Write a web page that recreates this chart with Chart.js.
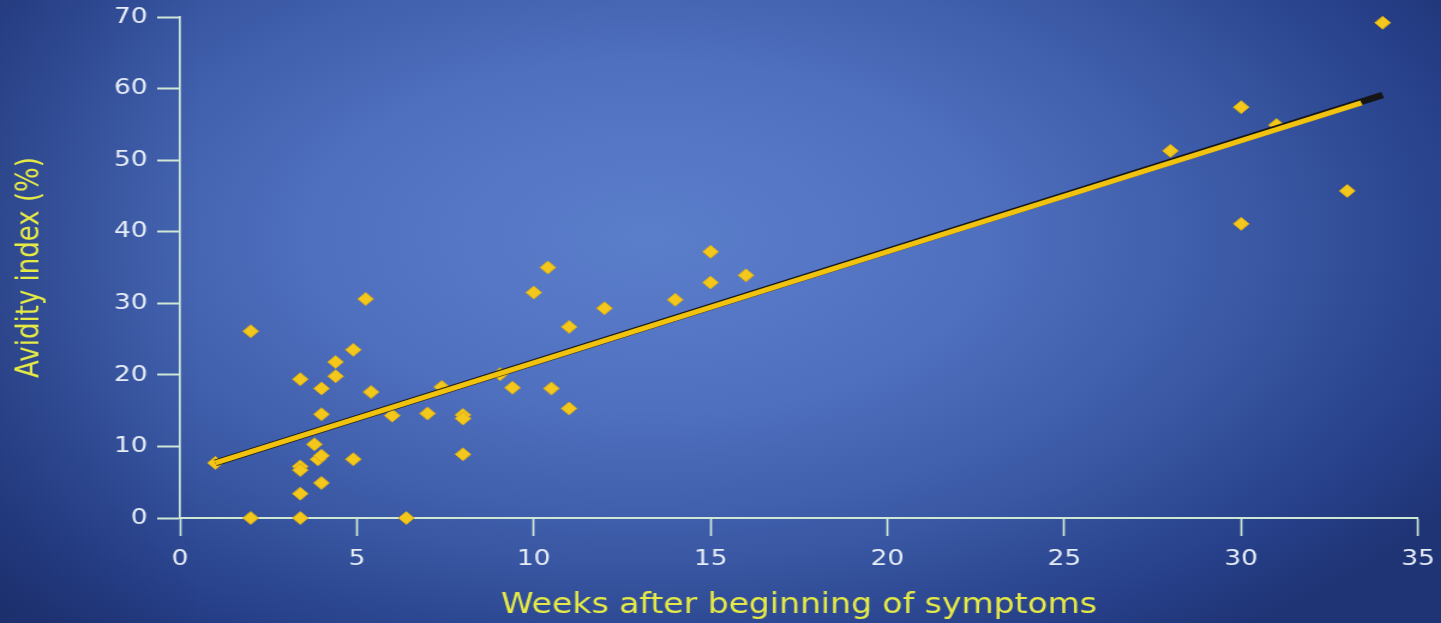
<!DOCTYPE html>
<html>
<head>
<meta charset="utf-8">
<title>Avidity index vs weeks</title>
<script src="https://cdn.jsdelivr.net/npm/chart.js@4/dist/chart.umd.min.js"></script>
<style>
  html, body {
    margin: 0;
    width: 1441px;
    height: 623px;
    overflow: hidden;
    background:
      linear-gradient(to right, rgba(22, 36, 90, 0.25) 0%, rgba(22, 36, 90, 0) 14%),
      radial-gradient(ellipse 66% 80% at 45% 38%, #5b7ecb 0%, #4f70bf 35%, #3957a3 65%, #263f88 88%, #1f3475 100%);
  }
  /* the source picture is stretched sideways, so the chart is drawn narrower and widened */
  #wrap {
    position: absolute;
    left: 0;
    top: 0;
    width: 1201px;
    height: 623px;
    transform: scaleX(1.2);
    transform-origin: 0 0;
  }
</style>
</head>
<body>
<div id="wrap"><canvas id="chart"></canvas></div>
<script>
  // measured points: weeks after beginning of symptoms / avidity index (%)
  const weeks = [
    1.0, 2.0, 2.0, 3.4, 3.4, 3.4, 3.4, 3.4, 3.8, 3.9,
    4.0, 4.0, 4.0, 4.0, 4.4, 4.4, 4.9, 4.9, 5.25, 5.4,
    6.0, 6.4, 7.0, 7.4, 8.0, 8.0, 8.0, 9.05, 9.4, 10.0,
    10.4, 10.5, 11.0, 11.0, 12.0, 14.0, 15.0, 15.0, 16.0, 28.0,
    30.0, 30.0, 31.0, 33.0, 34.0
  ];
  const avidity = [
    7.7, 26.1, 0, 19.4, 7.2, 6.7, 3.4, 0, 10.3, 8.2,
    8.7, 4.9, 14.5, 18.1, 21.8, 19.8, 23.5, 8.2, 30.6, 17.6,
    14.3, 0, 14.6, 18.3, 14.4, 13.9, 8.9, 20.1, 18.2, 31.5,
    35.0, 18.1, 26.7, 15.3, 29.3, 30.5, 37.2, 32.9, 33.9, 51.3,
    57.4, 41.1, 54.9, 45.7, 69.2
  ];

  // regression line as drawn: dark under-stroke and yellow stroke
  const fitShadowX = [1, 34];
  const fitShadowY = [7.7, 59.1];
  const fitX = [1, 33.4];
  const fitY = [7.7, 58.0];

  const xTicks = [0, 5, 10, 15, 20, 25, 30, 35];
  const yTicks = [0, 10, 20, 30, 40, 50, 60, 70];

  const axisColor = "#cfe8d6";
  const labelColor = "#e6edf7";
  const titleColor = "#e6ea46";
  const markYellow = "#f3c71c";

  const toPoints = (xs, ys) => xs.map((x, i) => ({ x, y: ys[i] }));

  new Chart(document.getElementById("chart"), {
    type: "scatter",
    data: {
      datasets: [
        {
          data: toPoints(fitX, fitY),
          showLine: true,
          borderColor: "#f2c30e",
          borderWidth: 5,
          pointRadius: 0,
          clip: false,
          order: 1
        },
        {
          data: toPoints(fitShadowX, fitShadowY),
          showLine: true,
          borderColor: "#151515",
          borderWidth: 6.5,
          pointRadius: 0,
          clip: false,
          order: 2
        },
        {
          data: toPoints(weeks, avidity),
          pointStyle: "rectRot",
          pointRadius: 6.5,
          backgroundColor: markYellow,
          borderColor: "#d9ab12",
          borderWidth: 1,
          clip: false,
          order: 3
        }
      ]
    },
    options: {
      responsive: true,
      maintainAspectRatio: false,
      animation: false,
      layout: { padding: { top: 17, right: 19.3, left: 0, bottom: 0 } },
      plugins: { legend: { display: false }, tooltip: { enabled: false } },
      scales: {
        x: {
          type: "linear",
          min: 0,
          max: 35,
          afterBuildTicks: (s) => { s.ticks = xTicks.map((v) => ({ value: v })); },
          afterFit: (s) => {
            s.height = 105;
            s.paddingLeft = 0;
            s.paddingRight = 0;
          },
          grid: { drawOnChartArea: false, tickLength: 18, tickColor: axisColor, tickWidth: 1.7 },
          border: { color: axisColor, width: 2 },
          ticks: { color: labelColor, padding: 10, font: { family: "DejaVu Sans", size: 22 } },
          title: {
            display: true,
            text: "Weeks after beginning of symptoms",
            color: titleColor,
            font: { family: "DejaVu Sans", size: 27.5 },
            padding: { top: 0, bottom: 1 }
          }
        },
        y: {
          type: "linear",
          min: 0,
          max: 70,
          afterBuildTicks: (s) => { s.ticks = yTicks.map((v) => ({ value: v })); },
          afterFit: (s) => {
            s.width = 150;
            s.paddingTop = 0;
            s.paddingBottom = 0;
          },
          grid: { drawOnChartArea: false, tickLength: 19, tickColor: axisColor, tickWidth: 2 },
          border: { color: axisColor, width: 1.7 },
          ticks: { color: labelColor, padding: 8, font: { family: "DejaVu Sans", size: 22 } },
          title: {
            display: true,
            text: "Avidity index (%)",
            color: titleColor,
            font: { family: "DejaVu Sans", size: 26 },
            padding: { top: 10, bottom: 0 }
          }
        }
      }
    }
  });
</script>
</body>
</html>
